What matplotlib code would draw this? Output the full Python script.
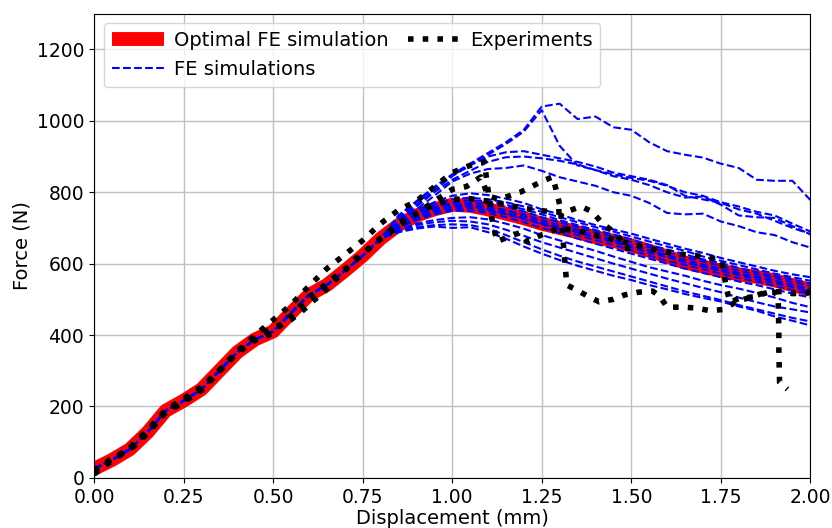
import matplotlib
matplotlib.use("Agg")
import matplotlib.pyplot as plt

# loading branch, shared by the optimal run and all FE runs (they overlap there)
x_rise = [0.0, 0.05, 0.1, 0.15, 0.2, 0.25, 0.3, 0.35, 0.4, 0.45, 0.5, 0.55,
          0.6, 0.65, 0.7, 0.75, 0.8]
f_rise = [25, 50, 80, 128, 188, 216, 248, 300, 352, 388, 410, 462,
          512, 540, 580, 622, 670]

# post-peak part
x_post = [0.85, 0.9, 0.95, 1.0, 1.05, 1.1, 1.15, 1.2, 1.25, 1.3, 1.35, 1.4,
          1.45, 1.5, 1.55, 1.6, 1.65, 1.7, 1.75, 1.8, 1.85, 1.9, 1.95, 2.0]
opt_post = [708, 735, 752, 765, 762, 752, 740, 727, 712, 700, 688, 674,
            664, 651, 636, 620, 603, 592, 580, 570, 563, 553, 540, 527]

sim_u1 = [735, 775, 815, 850, 880, 910, 940, 975, 1040, 1048, 1005, 1012,
          982, 975, 940, 915, 905, 897, 880, 868, 835, 832, 832, 778]
sim_u2 = [730, 772, 812, 848, 878, 905, 935, 970, 1030, 930, 875, 862,
          850, 840, 832, 818, 800, 790, 772, 760, 745, 735, 712, 690]
sim_m1 = [728, 765, 805, 845, 875, 900, 912, 915, 905, 895, 885, 872,
          855, 845, 835, 820, 790, 780, 770, 752, 740, 720, 700, 683]
sim_m2 = [725, 760, 800, 835, 860, 885, 898, 900, 895, 888, 878, 862,
          845, 835, 820, 800, 785, 788, 765, 735, 730, 728, 705, 682]
sim_m3 = [722, 752, 790, 830, 852, 865, 868, 875, 860, 842, 830, 818,
          800, 790, 770, 742, 738, 740, 718, 705, 688, 680, 660, 645]
sim_c1 = [718, 748, 772, 790, 797, 792, 782, 770, 752, 738, 722, 708,
          696, 684, 670, 656, 642, 630, 616, 604, 592, 580, 570, 562]
sim_c2 = [712, 742, 765, 780, 785, 780, 772, 760, 745, 730, 716, 702,
          690, 676, 662, 648, 636, 620, 608, 596, 584, 572, 562, 552]
sim_c3 = [710, 738, 758, 772, 778, 775, 765, 752, 738, 722, 708, 694,
          682, 668, 652, 640, 626, 612, 602, 588, 576, 565, 555, 545]
sim_c4 = [708, 735, 755, 768, 770, 768, 760, 746, 730, 716, 702, 688,
          676, 660, 646, 632, 618, 606, 594, 580, 570, 560, 548, 538]
sim_c5 = [706, 732, 750, 762, 766, 760, 750, 738, 722, 708, 694, 680,
          668, 652, 638, 624, 610, 598, 586, 574, 562, 552, 540, 530]
sim_c6 = [705, 730, 746, 758, 760, 755, 745, 732, 716, 702, 688, 674,
          660, 646, 630, 618, 604, 592, 580, 568, 556, 546, 534, 522]
sim_c7 = [702, 726, 742, 752, 755, 748, 738, 725, 710, 695, 680, 666,
          652, 638, 622, 608, 596, 584, 572, 560, 550, 538, 526, 515]
sim_c8 = [700, 722, 738, 748, 748, 742, 730, 716, 700, 686, 670, 656,
          642, 628, 614, 600, 586, 574, 562, 550, 540, 528, 516, 505]
sim_l1 = [695, 712, 722, 728, 730, 724, 712, 698, 680, 665, 650, 636,
          620, 605, 590, 578, 566, 552, 540, 530, 518, 505, 490, 478]
sim_l2 = [692, 708, 716, 720, 718, 710, 695, 678, 660, 645, 630, 615,
          600, 586, 572, 558, 545, 532, 520, 505, 492, 480, 472, 463]
sim_l3 = [690, 702, 708, 710, 708, 698, 680, 660, 640, 622, 606, 592,
          578, 564, 550, 536, 522, 510, 498, 484, 472, 460, 448, 438]
sim_l4 = [688, 698, 704, 700, 702, 688, 670, 648, 628, 610, 594, 580,
          566, 554, 540, 528, 515, 504, 494, 480, 468, 452, 440, 427]

fe_sims = [sim_u1, sim_u2, sim_m1, sim_m2, sim_m3, sim_c1, sim_c2, sim_c3,
           sim_c4, sim_c5, sim_c6, sim_c7, sim_c8, sim_l1, sim_l2, sim_l3, sim_l4]

# experiments
exp_a_x = [0, 0.05, 0.1, 0.15, 0.2, 0.25, 0.3, 0.35, 0.4, 0.45, 0.5, 0.55, 0.6,
           0.65, 0.7, 0.75, 0.8, 0.85, 0.9, 0.95, 1.0, 1.05, 1.09, 1.095, 1.1,
           1.11, 1.125, 1.16, 1.19, 1.21, 1.25, 1.3, 1.35, 1.4, 1.45, 1.5,
           1.55, 1.6, 1.65, 1.7, 1.75, 1.758, 1.765, 1.775, 1.8, 1.84, 1.88,
           1.92, 1.95, 2.0]
exp_a_f = [10, 48, 82, 130, 185, 218, 250, 302, 355, 400, 442, 485, 537,
           586, 625, 665, 712, 750, 775, 815, 855, 875, 886, 845, 808,
           730, 662, 676, 687, 662, 681, 700, 692, 680, 668, 655,
           643, 632, 625, 620, 612, 575, 535, 492, 502, 507, 519,
           522, 516, 519]

exp_b_x = [0, 0.05, 0.1, 0.15, 0.2, 0.25, 0.3, 0.35, 0.4, 0.45, 0.5, 0.55,
           0.58, 0.61, 0.64, 0.67, 0.7, 0.72, 0.75, 0.8, 0.85, 0.9, 0.95, 1.0,
           1.04, 1.08, 1.1, 1.13, 1.16, 1.19, 1.22, 1.25, 1.28, 1.29, 1.3,
           1.305, 1.31, 1.315, 1.32, 1.35, 1.38, 1.41, 1.45, 1.48, 1.52, 1.56,
           1.58, 1.6, 1.64, 1.68, 1.72, 1.76, 1.79, 1.83, 1.87, 1.9, 1.91,
           1.911, 1.912, 1.912, 1.913, 1.914, 1.936]
exp_b_f = [15, 52, 85, 135, 190, 222, 255, 300, 350, 392, 420, 443,
           466, 494, 519, 550, 578, 606, 630, 668, 705, 740, 775, 808,
           816, 843, 790, 780, 790, 800, 815, 830, 843, 808, 766,
           724, 660, 600, 540, 525, 508, 493, 500, 512, 520, 523,
           508, 478, 478, 476, 468, 472, 492, 505, 518, 520, 508,
           460, 410, 360, 310, 268, 248]

exp_c_x = [0, 0.05, 0.1, 0.15, 0.2, 0.25, 0.3, 0.35, 0.4, 0.45, 0.5, 0.55, 0.6,
           0.65, 0.7, 0.75, 0.8, 0.85, 0.9, 0.95, 1.0, 1.05, 1.1, 1.15, 1.2,
           1.25, 1.29, 1.32, 1.36, 1.39, 1.42, 1.45, 1.47, 1.48, 1.52]
exp_c_f = [20, 55, 78, 125, 182, 212, 245, 298, 350, 385, 405, 455, 505,
           545, 585, 625, 672, 712, 740, 765, 780, 782, 775, 765, 755,
           748, 745, 746, 760, 746, 712, 690, 668, 642, 645]

experiments = [(exp_a_x, exp_a_f), (exp_b_x, exp_b_f), (exp_c_x, exp_c_f)]

fig = plt.figure(figsize=(8.32, 5.28), dpi=100)
ax = fig.add_axes([0.113, 0.095, 0.861, 0.879])

x_all = x_rise + x_post
h_opt, = ax.plot(x_all, f_rise + opt_post, color='red', lw=10, zorder=2,
                 solid_capstyle='butt', label='Optimal FE simulation')
for sim in fe_sims:
    h_fe, = ax.plot(x_all, f_rise + sim, '--', color='blue', lw=1.5, zorder=3,
                    label='FE simulations')
ax.plot(x_all, f_rise + opt_post, '--', color='blue', lw=1.5, zorder=3)
for ex, ef in experiments:
    h_exp, = ax.plot(ex, ef, ':', color='black', lw=4, zorder=4,
                     label='Experiments')

ax.set_xlim(0, 2.0)
ax.set_ylim(0, 1300)
ax.set_xticks([0.0, 0.25, 0.5, 0.75, 1.0, 1.25, 1.5, 1.75, 2.0])
ax.set_yticks([0, 200, 400, 600, 800, 1000, 1200])
ax.set_xticklabels(['0.00', '0.25', '0.50', '0.75', '1.00', '1.25', '1.50', '1.75', '2.00'])
ax.tick_params(labelsize=13.5)
ax.grid(True, color='#c0c0c0', lw=1)
ax.set_axisbelow(True)
ax.set_xlabel('Displacement (mm)', fontsize=14, labelpad=2)
ax.set_ylabel('Force (N)', fontsize=14)

ax.legend(handles=[h_opt, h_fe, h_exp], loc='upper left', ncol=2, fontsize=14,
          handlelength=2.7, handletextpad=0.5, columnspacing=1.0,
          borderpad=0.4, borderaxespad=0.5)

fig.savefig('out.png', dpi=100)
